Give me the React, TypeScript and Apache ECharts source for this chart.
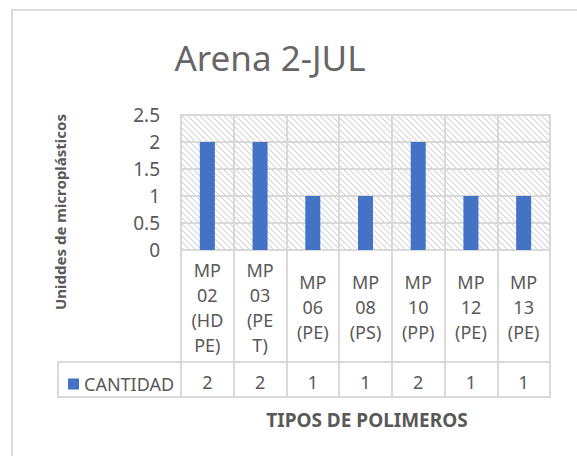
import React, { useEffect, useRef } from "react";
import * as echarts from "echarts";

const titleText = "Arena 2-JUL";
const seriesName = "CANTIDAD";
const categories = ["MP 02 (HDPE)", "MP 03 (PET)", "MP 06 (PE)", "MP 08 (PS)", "MP 10 (PP)", "MP 12 (PE)", "MP 13 (PE)"];
const tickLabels = ["MP\n02\n(HD\nPE)", "MP\n03\n(PE\nT)", "MP\n06\n(PE)", "MP\n08\n(PS)", "MP\n10\n(PP)", "MP\n12\n(PE)", "MP\n13\n(PE)"];
const cantidad = [2, 2, 1, 1, 2, 1, 1];
const yMin = 0;
const yMax = 2.5;
const yStep = 0.5;
const yTitle = "Uniddes de microplásticos";
const xTitle = "TIPOS DE POLIMEROS";

const FONT = "'Noto Sans', 'Open Sans', sans-serif";
const GRID = "#d9d9d9";
const TXT = "#595959";

function makeHatch() {
  const c = document.createElement("canvas");
  c.width = 6;
  c.height = 6;
  const g = c.getContext("2d")!;
  g.fillStyle = "#ffffff";
  g.fillRect(0, 0, 6, 6);
  g.strokeStyle = "#d6d6d6";
  g.lineWidth = 1.2;
  g.beginPath();
  g.moveTo(-1, -1);
  g.lineTo(7, 7);
  g.moveTo(-4, 2);
  g.lineTo(4, 10);
  g.moveTo(2, -4);
  g.lineTo(10, 4);
  g.stroke();
  return c;
}

export default function App() {
  const ref = useRef<HTMLDivElement>(null);
  useEffect(() => {
    const chart = echarts.init(ref.current!, undefined, { renderer: "svg" });
    const hatch = makeHatch();
    chart.setOption({
      animation: false,
      backgroundColor: "#ffffff",
      textStyle: { fontFamily: FONT },
      grid: {
        left: 181,
        top: 115,
        right: 27,
        bottom: 206,
        show: true,
        borderColor: GRID,
        borderWidth: 2,
        backgroundColor: { image: hatch, repeat: "repeat", imageWidth: 6, imageHeight: 6 },
      },
      legend: {
        left: 63,
        top: 370,
        icon: "rect",
        itemWidth: 11,
        itemHeight: 11,
        itemGap: 6,
        textStyle: { fontSize: 18, color: TXT, fontFamily: FONT },
        data: [seriesName],
      },
      xAxis: [
        {
          type: "category",
          data: categories,
          axisLine: { show: true, lineStyle: { color: GRID, width: 2 } },
          axisTick: { show: true, length: 147, interval: 0, lineStyle: { color: GRID, width: 2 } },
          splitLine: { show: true, interval: 0, lineStyle: { color: GRID, width: 2 } },
          axisLabel: {
            interval: 0,
            formatter: (_v: string, i: number) => tickLabels[i],
            fontSize: 18,
            lineHeight: 25,
            color: TXT,
            fontFamily: FONT,
            verticalAlign: "middle",
            margin: 57,
          },
        },
        {
          type: "category",
          data: categories,
          position: "bottom",
          offset: 112,
          axisLine: { show: true, lineStyle: { color: GRID, width: 2 } },
          axisTick: { show: false },
          splitLine: { show: false },
          axisLabel: {
            interval: 0,
            formatter: (_v: string, i: number) => String(cantidad[i]),
            fontSize: 18,
            color: TXT,
            fontFamily: FONT,
            verticalAlign: "middle",
            margin: 20,
          },
        },
      ],
      yAxis: {
        type: "value",
        min: yMin,
        max: yMax,
        interval: yStep,
        axisLine: { show: false },
        axisTick: { show: false },
        splitLine: { show: true, lineStyle: { color: GRID, width: 2 } },
        axisLabel: { fontSize: 19, color: TXT, fontFamily: FONT, margin: 21 },
      },
      series: [
        {
          name: seriesName,
          type: "bar",
          data: cantidad,
          barWidth: 15,
          itemStyle: { color: "#4472C4" },
        },
      ],
      graphic: [
        {
          type: "rect",
          shape: { x: 12, y: 10, width: 600, height: 500 },
          style: { fill: "none", stroke: GRID, lineWidth: 2 },
          silent: true,
        },
        {
          type: "rect",
          shape: { x: 58, y: 362, width: 123, height: 35 },
          style: { fill: "none", stroke: GRID, lineWidth: 2 },
          silent: true,
        },
        {
          type: "line",
          shape: { x1: 181, y1: 397, x2: 551, y2: 397 },
          style: { stroke: GRID, lineWidth: 2 },
          silent: true,
        },
        {
          type: "text",
          x: 270,
          y: 57,
          style: {
            text: titleText,
            fontSize: 35,
            fontFamily: FONT,
            fill: "#666666",
            textAlign: "center",
            textVerticalAlign: "middle",
          },
        },
        {
          type: "text",
          x: 60,
          y: 212,
          rotation: Math.PI / 2,
          style: {
            text: yTitle,
            fontSize: 15,
            fontWeight: "bold",
            fontFamily: FONT,
            fill: TXT,
            textAlign: "center",
            textVerticalAlign: "middle",
          },
        },
        {
          type: "text",
          x: 367,
          y: 420,
          style: {
            text: xTitle,
            fontSize: 19,
            fontWeight: "bold",
            fontFamily: FONT,
            fill: TXT,
            textAlign: "center",
            textVerticalAlign: "middle",
          },
        },
      ],
    });
    return () => chart.dispose();
  }, []);
  return (
    <div
      ref={ref}
      style={{ position: "fixed", left: 0, top: 0, width: 577, height: 456 }}
    />
  );
}
